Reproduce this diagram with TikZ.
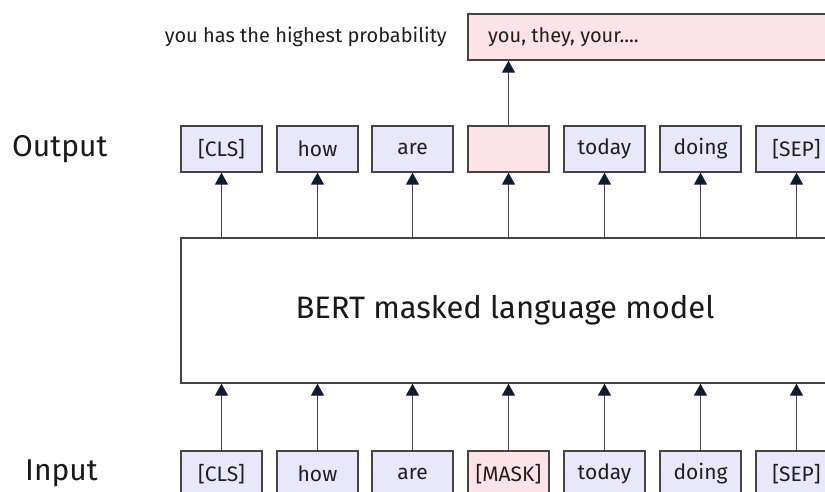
\documentclass[tikz,border=0pt]{standalone}
\usepackage{fontspec}
\setmainfont{Fira Sans}
\usetikzlibrary{arrows.meta}
\definecolor{tokfill}{HTML}{E8E8FA}
\definecolor{maskfill}{HTML}{FDE3E7}
\definecolor{edge}{HTML}{444444}
\definecolor{headc}{HTML}{0E1A36}
\tikzset{
  tok/.style={draw=edge, line width=1.4pt, fill=tokfill, minimum width=81pt, minimum height=46pt, inner sep=0pt, font=\fontsize{21}{24}\selectfont, text=black!88},
  masktok/.style={tok, fill=maskfill},
  conn/.style={draw=edge, line width=1.4pt, -{Triangle[length=12pt,width=13pt,color=headc,fill=headc]}},
  sidelabel/.style={font=\fontsize{30}{34}\selectfont, text=black!90, inner sep=0pt},
}
\begin{document}
\begin{tikzpicture}[x=1pt,y=-1pt]
\useasboundingbox (0,0) rectangle (825,492);
\clip (0,0) rectangle (825,492);
\fill[white] (0,0) rectangle (825,492);
% output row
\node[tok] (o1) at (221.5,149) {[CLS]};
\node[tok] (o2) at (317.5,149) {how};
\node[tok] (o3) at (412.5,149) {are};
\node[masktok] (o4) at (508.5,149) {};
\node[tok] (o5) at (604.5,149) {today};
\node[tok] (o6) at (700.5,149) {doing};
\node[tok] (o7) at (796.5,149) {[SEP]};
% input row
\node[tok] (i1) at (221.5,474) {[CLS]};
\node[tok] (i2) at (317.5,474) {how};
\node[tok] (i3) at (412.5,474) {are};
\node[masktok] (i4) at (508.5,474) {[MASK]};
\node[tok] (i5) at (604.5,474) {today};
\node[tok] (i6) at (700.5,474) {doing};
\node[tok] (i7) at (796.5,474) {[SEP]};
% model
\node[draw=edge, line width=1.4pt, fill=white, minimum width=719pt, minimum height=145pt, inner sep=0pt] (bert) at (540.5,310.5) {};
\node[font=\fontsize{31}{35}\selectfont, text=black!90, inner sep=0pt] (bertlabel) at (505,310) {BERT masked language model};
% top prediction
\node[draw=edge, line width=1.4pt, fill=maskfill, minimum width=400pt, minimum height=46pt, inner sep=0pt] (pred) at (668,37) {};
\node[anchor=west, font=\fontsize{20}{23}\selectfont, text=black!88, inner sep=0pt] (predtext) at (488,37) {you, they, your....};
\node[anchor=east, font=\fontsize{20}{23}\selectfont, text=black!88, inner sep=0pt] (note) at (447,37) {you has the highest probability};
% side labels
\node[sidelabel, anchor=west] (outlab) at (12,149) {Output};
\node[sidelabel, anchor=west] (inlab) at (25,473) {Input};
% connectors
\foreach \k in {1,...,7} {
  \draw[conn] (bert.north -| o\k.south) -- (o\k.south);
  \draw[conn] (i\k.north) -- (i\k.north |- bert.south);
}
\draw[conn] (o4.north) -- (o4.north |- pred.south);
\end{tikzpicture}
\end{document}
